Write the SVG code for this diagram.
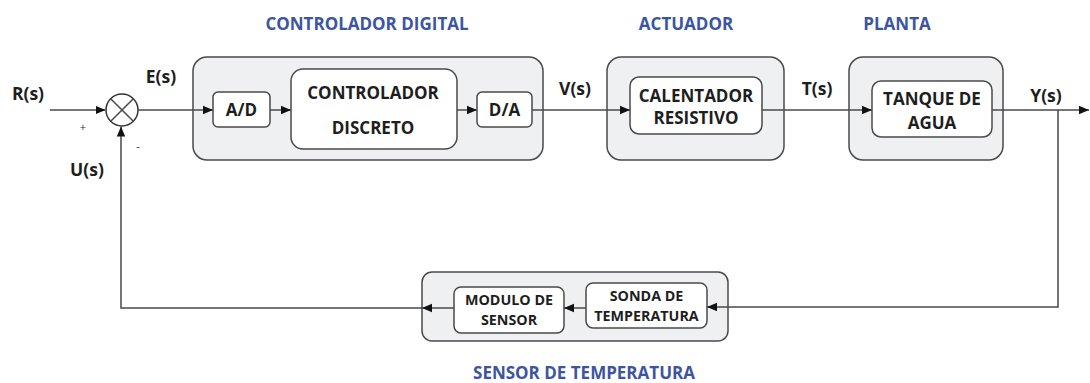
<svg xmlns="http://www.w3.org/2000/svg" width="1090" height="383" viewBox="0 0 1090 383">
<defs>
<style>
.grp{fill:#eef0f2;stroke:#4a4a4a;stroke-width:1.5}
.box{fill:#ffffff;stroke:#4a4a4a;stroke-width:1.5}
.ln{fill:none;stroke:#4a4a4a;stroke-width:1.5}
.t{font-family:"Open Sans","Liberation Sans",sans-serif;font-weight:bold;fill:#1e1e1e;text-anchor:middle}
.bt{font-size:17px}
.lb{font-size:17.5px}
.st{font-size:14.3px}
.ttl{font-family:"Open Sans","Liberation Sans",sans-serif;font-weight:bold;fill:#3c55a0;text-anchor:middle;font-size:17px}
.sg{font-family:"Open Sans","Liberation Sans",sans-serif;fill:#333;font-size:11px;text-anchor:middle}
</style>
<marker id="ah" viewBox="0 0 10 10" refX="10" refY="5" markerWidth="10" markerHeight="10" markerUnits="userSpaceOnUse" orient="auto">
<path d="M0,0.8 L10,5 L0,9.2 Z" fill="#111"/>
</marker>
</defs>
<rect width="1090" height="383" fill="#ffffff"/>

<g id="titles">
<text class="ttl" x="367" y="30">CONTROLADOR DIGITAL</text>
<text class="ttl" x="686" y="30">ACTUADOR</text>
<text class="ttl" x="897" y="30">PLANTA</text>
<text class="ttl" x="584" y="379">SENSOR DE TEMPERATURA</text>
</g>

<g id="controlador-digital">
<rect class="grp" x="193" y="57" width="350" height="103" rx="14"/>
</g>
<g id="actuador">
<rect class="grp" x="607" y="57" width="177" height="103" rx="14"/>
</g>
<g id="planta">
<rect class="grp" x="849" y="57" width="154" height="103" rx="14"/>
</g>
<g id="sensor-temperatura">
<rect class="grp" x="422" y="272" width="306" height="69" rx="10"/>
</g>

<g id="sumador">
<circle cx="122" cy="110" r="16" fill="#fff" stroke="#333" stroke-width="1.5"/>
<path class="ln" d="M110.7,98.7 L133.3,121.3 M133.3,98.7 L110.7,121.3" stroke="#333"/>
<text class="sg" x="83" y="131">+</text>
<text class="sg" x="138" y="150">-</text>
</g>

<g id="ad">
<rect class="box" x="213" y="92" width="57" height="35" rx="5"/>
<text class="t bt" x="241.5" y="116">A/D</text>
</g>
<g id="controlador-discreto">
<rect class="box" x="291" y="69" width="166" height="80" rx="12"/>
<text class="t bt" x="373" y="99">CONTROLADOR</text>
<text class="t bt" x="373" y="134">DISCRETO</text>
</g>
<g id="da">
<rect class="box" x="477" y="92" width="55" height="35" rx="5"/>
<text class="t bt" x="504.5" y="116">D/A</text>
</g>
<g id="calentador">
<rect class="box" x="630" y="77" width="132" height="57" rx="9"/>
<text class="t bt" x="696" y="102">CALENTADOR</text>
<text class="t bt" x="696" y="124">RESISTIVO</text>
</g>
<g id="tanque">
<rect class="box" x="872" y="81" width="120" height="56" rx="9"/>
<text class="t bt" x="932" y="105">TANQUE DE</text>
<text class="t bt" x="932" y="129">AGUA</text>
</g>
<g id="modulo">
<rect class="box" x="454" y="287" width="110" height="46" rx="7"/>
<text class="t st" x="509" y="305">MODULO DE</text>
<text class="t st" x="509" y="325">SENSOR</text>
</g>
<g id="sonda">
<rect class="box" x="586" y="283" width="121" height="45" rx="7"/>
<text class="t st" x="646.5" y="301">SONDA DE</text>
<text class="t st" x="646.5" y="321">TEMPERATURA</text>
</g>

<g id="connectors">
<path class="ln" d="M50,110 L105.5,110" marker-end="url(#ah)"/>
<path class="ln" d="M138,110 L213,110" marker-end="url(#ah)"/>
<path class="ln" d="M270,110 L291,110" marker-end="url(#ah)"/>
<path class="ln" d="M457,110 L477,110" marker-end="url(#ah)"/>
<path class="ln" d="M532,110 L630,110" marker-end="url(#ah)"/>
<path class="ln" d="M762,110 L872,110" marker-end="url(#ah)"/>
<path class="ln" d="M992,110 L1089,110" marker-end="url(#ah)"/>
<path class="ln" d="M1058,110 L1058,307 L707,307" marker-end="url(#ah)"/>
<path class="ln" d="M586,308 L564,308" marker-end="url(#ah)"/>
<path class="ln" d="M454,308 L422,308" marker-end="url(#ah)"/>
<path class="ln" d="M422,308 L121,308 L121,126.5" marker-end="url(#ah)"/>
</g>

<g id="labels">
<text class="t lb" x="28" y="100">R(s)</text>
<text class="t lb" x="161" y="83">E(s)</text>
<text class="t lb" x="87" y="176">U(s)</text>
<text class="t lb" x="575" y="95">V(s)</text>
<text class="t lb" x="817" y="95">T(s)</text>
<text class="t lb" x="1046" y="102">Y(s)</text>
</g>
</svg>
